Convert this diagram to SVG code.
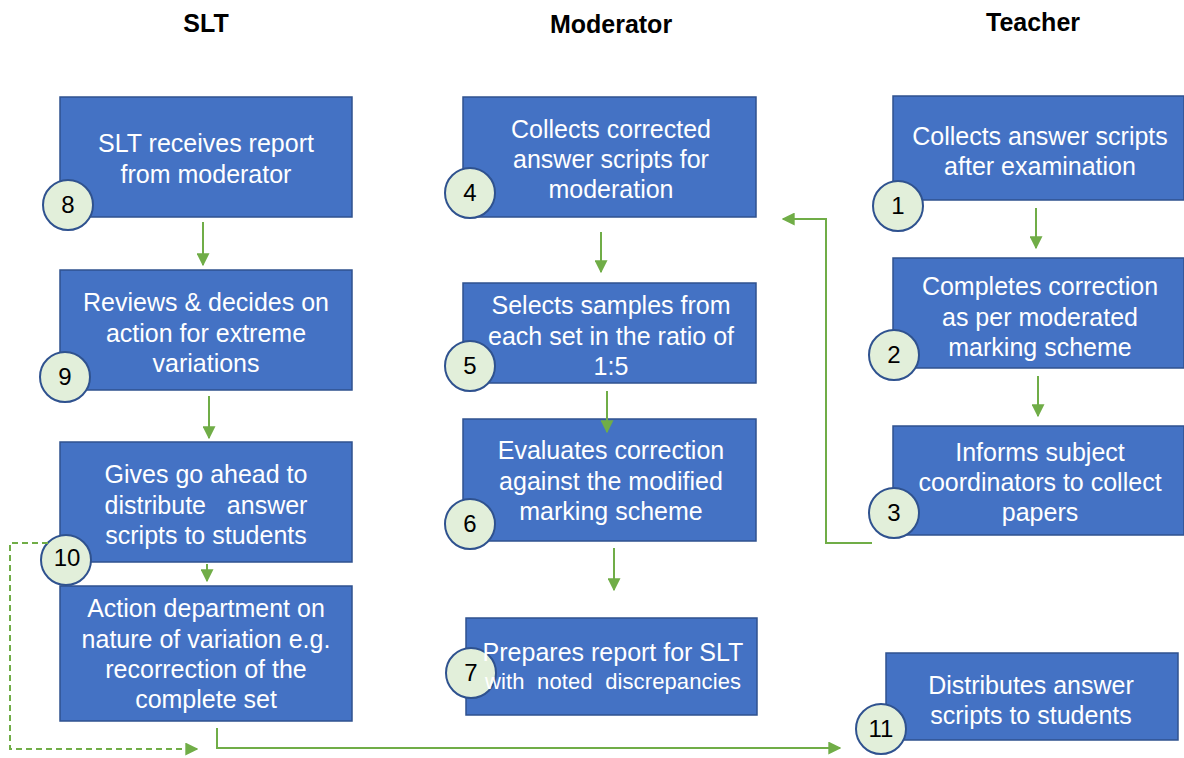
<svg xmlns="http://www.w3.org/2000/svg" width="1184" height="758" viewBox="0 0 1184 758">
<style>
.box{fill:#4472C4;stroke:#2F528F;stroke-width:1.5}
.num{fill:#E2EFDA;stroke:#2F528F;stroke-width:2}
.t{font-family:"Liberation Sans",Arial,sans-serif;font-size:25px;fill:#ffffff;text-anchor:middle}
.n{font-family:"Liberation Sans",Arial,sans-serif;font-size:24px;fill:#000000;text-anchor:middle}
.h{font-family:"Liberation Sans",Arial,sans-serif;font-size:25px;font-weight:bold;fill:#000000;text-anchor:middle}
.c{fill:none;stroke:#70AD47;stroke-width:2}
.d{fill:none;stroke:#70AD47;stroke-width:2;stroke-dasharray:6 4}
</style>
<defs>
<marker id="ah" viewBox="0 0 10 10" refX="9" refY="5" markerWidth="6.5" markerHeight="6.5" orient="auto" markerUnits="strokeWidth">
<path d="M0,0 L10,5 L0,10 z" fill="#70AD47"/>
</marker>
</defs>
<rect width="1184" height="758" fill="#ffffff"/>
<g id="headers">
<text class="h" x="206" y="32">SLT</text>
<text class="h" x="611" y="33">Moderator</text>
<text class="h" x="1033" y="31">Teacher</text>
</g>
<g id="node8">
<rect class="box" x="60" y="97" width="292" height="120"/>
<circle class="num" cx="68" cy="205" r="25"/>
<text class="n" x="68" y="213">8</text>
<text class="t" x="206" y="152">SLT receives report</text>
<text class="t" x="206" y="183">from moderator</text>
</g>
<g id="node9">
<rect class="box" x="60" y="270" width="292" height="120"/>
<circle class="num" cx="65" cy="377" r="25"/>
<text class="n" x="65" y="385">9</text>
<text class="t" x="206" y="311">Reviews &amp; decides on</text>
<text class="t" x="206" y="342">action for extreme</text>
<text class="t" x="206" y="372">variations</text>
</g>
<g id="node10">
<rect class="box" x="60" y="442" width="292" height="120"/>
<circle class="num" cx="66" cy="560" r="25"/>
<text class="n" x="67" y="566">10</text>
<text class="t" x="206" y="483">Gives go ahead to</text>
<text class="t" x="206" y="514" xml:space="preserve">distribute   answer</text>
<text class="t" x="206" y="544">scripts to students</text>
</g>
<g id="node10b">
<rect class="box" x="60" y="586" width="292" height="135"/>
<text class="t" x="206" y="617">Action department on</text>
<text class="t" x="206" y="648">nature of variation e.g.</text>
<text class="t" x="206" y="678">recorrection of the</text>
<text class="t" x="206" y="708">complete set</text>
</g>
<g id="node4">
<rect class="box" x="463" y="97" width="293" height="120"/>
<circle class="num" cx="470" cy="193" r="25"/>
<text class="n" x="470" y="201">4</text>
<text class="t" x="611" y="138">Collects corrected</text>
<text class="t" x="611" y="168">answer scripts for</text>
<text class="t" x="611" y="198">moderation</text>
</g>
<g id="node5">
<rect class="box" x="463" y="283" width="293" height="100"/>
<circle class="num" cx="470" cy="366" r="25"/>
<text class="n" x="470" y="374">5</text>
<text class="t" x="611" y="314">Selects samples from</text>
<text class="t" x="611" y="345">each set in the ratio of</text>
<text class="t" x="611" y="375">1:5</text>
</g>
<g id="node6">
<rect class="box" x="463" y="419" width="293" height="122"/>
<circle class="num" cx="470" cy="524" r="25"/>
<text class="n" x="470" y="532">6</text>
<text class="t" x="611" y="459">Evaluates correction</text>
<text class="t" x="611" y="490">against the modified</text>
<text class="t" x="611" y="520">marking scheme</text>
</g>
<g id="node7">
<rect class="box" x="466" y="618" width="291" height="97"/>
<circle class="num" cx="471" cy="673" r="25"/>
<text class="n" x="471" y="681">7</text>
<text class="t" x="613" y="661">Prepares report for SLT</text>
<text class="t" x="613" y="689" style="font-size:22px" textLength="256" xml:space="preserve">with  noted  discrepancies</text>
</g>
<g id="node1">
<rect class="box" x="893" y="96" width="291" height="104"/>
<circle class="num" cx="898" cy="206" r="25"/>
<text class="n" x="898" y="214">1</text>
<text class="t" x="1040" y="145">Collects answer scripts</text>
<text class="t" x="1040" y="175">after examination</text>
</g>
<g id="node2">
<rect class="box" x="893" y="258" width="291" height="110"/>
<circle class="num" cx="894" cy="355" r="25"/>
<text class="n" x="894" y="363">2</text>
<text class="t" x="1040" y="295">Completes correction</text>
<text class="t" x="1040" y="326">as per moderated</text>
<text class="t" x="1040" y="356">marking scheme</text>
</g>
<g id="node3">
<rect class="box" x="893" y="426" width="291" height="109"/>
<circle class="num" cx="894" cy="513" r="25"/>
<text class="n" x="894" y="521">3</text>
<text class="t" x="1040" y="461">Informs subject</text>
<text class="t" x="1040" y="491">coordinators to collect</text>
<text class="t" x="1040" y="521">papers</text>
</g>
<g id="node11">
<rect class="box" x="886" y="653" width="292" height="87"/>
<circle class="num" cx="881" cy="729" r="25"/>
<text class="n" x="881" y="737">11</text>
<text class="t" x="1031" y="694">Distributes answer</text>
<text class="t" x="1031" y="724">scripts to students</text>
</g>
<g id="connectors">
<line class="c" x1="203" y1="222" x2="203" y2="265" marker-end="url(#ah)"/>
<line class="c" x1="209" y1="396" x2="209" y2="438" marker-end="url(#ah)"/>
<line class="c" x1="207" y1="564" x2="207" y2="581" marker-end="url(#ah)"/>
<line class="c" x1="601" y1="232" x2="601" y2="272" marker-end="url(#ah)"/>
<line class="c" x1="607" y1="391" x2="607" y2="432" marker-end="url(#ah)"/>
<line class="c" x1="614" y1="548" x2="614" y2="590" marker-end="url(#ah)"/>
<line class="c" x1="1036" y1="208" x2="1036" y2="248" marker-end="url(#ah)"/>
<line class="c" x1="1038" y1="376" x2="1038" y2="416" marker-end="url(#ah)"/>
<polyline class="c" points="872,543 826,543 826,219 783,219" marker-end="url(#ah)"/>
<polyline class="d" points="48,543 10,543 10,749 197,749" marker-end="url(#ah)"/>
<polyline class="c" points="217,728 217,748 840,748" marker-end="url(#ah)"/>
</g>
</svg>
